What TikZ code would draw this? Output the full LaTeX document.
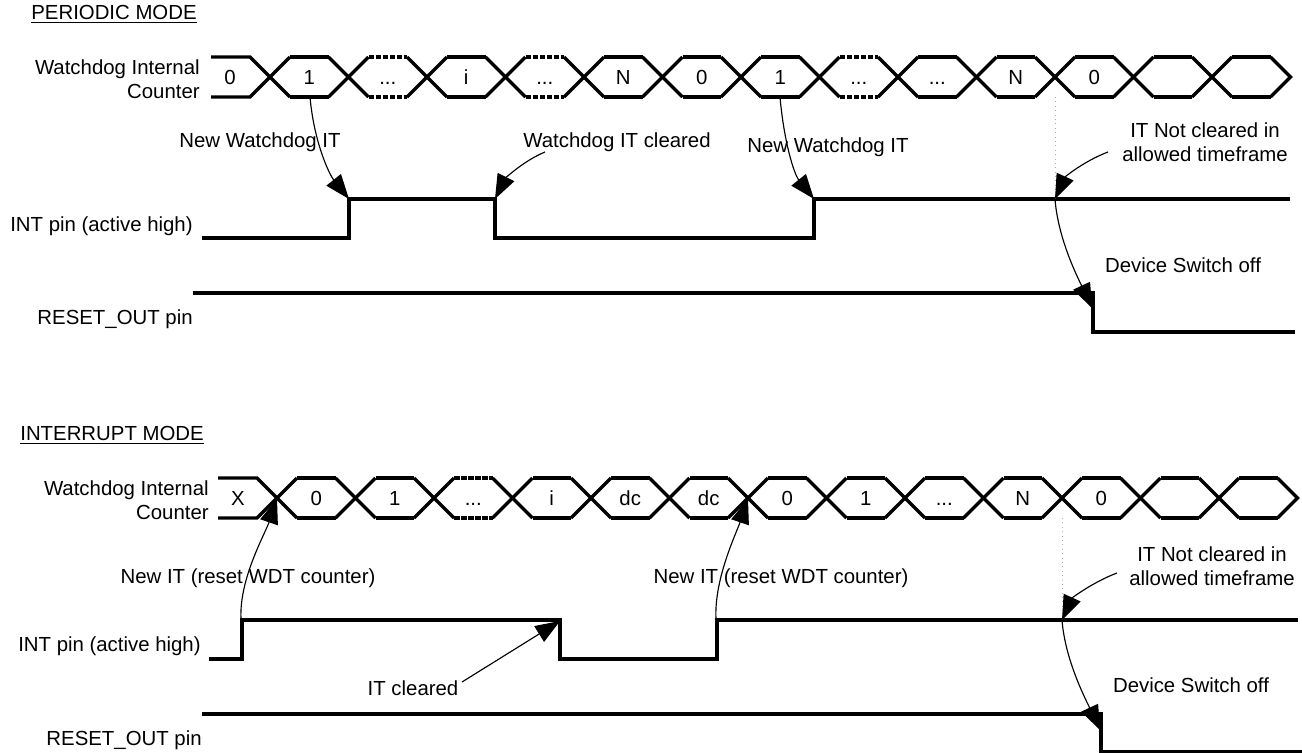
\documentclass[tikz,border=0pt]{standalone}
\usepackage{fontspec}
\setmainfont{Liberation Sans}
\usetikzlibrary{arrows.meta,calc}
\definecolor{signalcolor}{RGB}{0,0,0}
\definecolor{guidecolor}{RGB}{175,175,175}
\newcommand{\skipmark}{...}
\tikzset{
    signal/.style={
        line width=1.9pt,
        line join=miter,
        color=signalcolor
    },
    skipline/.style={signal, dash pattern=on 3.2pt off 0.8pt},
    label/.style={font=\fontsize{11.6}{13.7}\selectfont, inner sep=0pt},
    cell/.style={label, text height=8.3pt, text depth=0pt},
    rowlabel/.style={label, align=right, anchor=east},
    note/.style={label, align=center},
    title/.style={label, anchor=west},
    callout/.style={-{Triangle[length=14pt,width=10.5pt]}, line width=0.65pt},
    guide/.style={dotted, line width=0.5pt, color=guidecolor}
}

\begin{document}
\begin{tikzpicture}[x=0.02cm, y=-0.02cm]
    \useasboundingbox (0,0) rectangle (1302,752);

    % ---------------- Periodic mode ----------------
    \node[title] (ptitle) at (31,14) {\underline{PERIODIC MODE}};

    % Row labels
    \node[rowlabel] (pcnt) at (200,79) {Watchdog Internal\\Counter};
    \node[rowlabel] (pint) at (193,226) {INT pin (active high)};
    \node[rowlabel] (prst) at (193,319) {RESET\_OUT pin};

    % Counter
    \draw[signal] (211,57) -- (250,57) -- (270,77) -- (250,97) -- (211,97);
    \node[cell] (pcs) at (230,77) {0};
    \foreach \lab/\edge [count=\k from 0] in {1/signal, \skipmark/skipline, i/signal, \skipmark/skipline, N/signal, 0/signal, 1/signal, \skipmark/skipline, \skipmark/signal, N/signal, 0/signal, {}/signal, {}/signal} {
        \pgfmathsetmacro\xa{270+78.5*\k}
        \pgfmathsetmacro\xb{\xa+78.5}
        \draw[signal] (\xa+20,57) -- (\xa,77) -- (\xa+20,97);
        \draw[signal] (\xb-20,57) -- (\xb,77) -- (\xb-20,97);
        \draw[\edge] (\xa+20,57) -- (\xb-20,57) (\xa+20,97) -- (\xb-20,97);
        \node[cell] (pc\k) at ({(\xa+\xb)/2},77) {\lab};
    }

    % INT pin and RESET_OUT pin
    \draw[signal] (202,238) -- (349,238) -- (349,199) -- (495,199) -- (495,238)
        -- (814,238) -- (814,199) -- (1290,199);
    \draw[signal] (193,293) -- (1093,293) -- (1093,332) -- (1295,332);

    % Points on the waveforms
    \coordinate (pnew1) at (310,97);
    \coordinate (prise1) at (349,199);
    \coordinate (pclr) at (545,152);
    \coordinate (pfall) at (495,199);
    \coordinate (pnew2) at (780,97);
    \coordinate (prise2) at (814,199);
    \coordinate (pmiss) at (1108,152);
    \coordinate (pedge) at (1055,199);
    \coordinate (ptop) at (1055,97);
    \coordinate (poff) at (1092,308);

    % Notes
    \node[note] (pnote1) at (260,142) {New Watchdog IT};
    \node[note] (pnote2) at (617,142) {Watchdog IT cleared};
    \node[note] (pnote3) at (828,147) {New Watchdog IT};
    \node[note] (pnote4) at (1205,142) {IT Not cleared in\\allowed timeframe};
    \node[note] (pnote5) at (1183,265) {Device Switch off};

    % Callouts
    \draw[guide] (ptop) -- (pedge);
    \draw[callout] (pnew1) .. controls +(4,45) and +(-20,-25) .. (prise1);
    \draw[callout] (pclr) .. controls +(-22,9) and +(10,-20) .. (pfall);
    \draw[callout] (pnew2) .. controls +(4,45) and +(-20,-25) .. (prise2);
    \draw[callout] (pmiss) .. controls +(-24,9) and +(10,-22) .. (pedge);
    \draw[callout] (pedge) .. controls +(3,40) and +(-14,-30) .. (poff);

    % ---------------- Interrupt mode ----------------
    \node[title] (ititle) at (20,435) {\underline{INTERRUPT MODE}};

    % Row labels
    \node[rowlabel] (icnt) at (209,500) {Watchdog Internal\\Counter};
    \node[rowlabel] (iint) at (201,646) {INT pin (active high)};
    \node[rowlabel] (irst) at (202,740) {RESET\_OUT pin};

    % Counter
    \draw[signal] (218,478) -- (257,478) -- (277,498) -- (257,518) -- (218,518);
    \node[cell] (ics) at (238,498) {X};
    \foreach \lab/\edge [count=\k from 0] in {0/signal, 1/signal, \skipmark/skipline, i/signal, dc/signal, dc/signal, 0/signal, 1/signal, \skipmark/signal, N/signal, 0/signal, {}/signal, {}/signal} {
        \pgfmathsetmacro\xa{277+78.5*\k}
        \pgfmathsetmacro\xb{\xa+78.5}
        \draw[signal] (\xa+20,478) -- (\xa,498) -- (\xa+20,518);
        \draw[signal] (\xb-20,478) -- (\xb,498) -- (\xb-20,518);
        \draw[\edge] (\xa+20,478) -- (\xb-20,478) (\xa+20,518) -- (\xb-20,518);
        \node[cell] (ic\k) at ({(\xa+\xb)/2},498) {\lab};
    }

    % INT pin and RESET_OUT pin
    \draw[signal] (209,659) -- (242,659) -- (242,620) -- (560,620) -- (560,659)
        -- (717,659) -- (717,620) -- (1298,620);
    \draw[signal] (202,714) -- (1101,714) -- (1101,752) -- (1310,752);

    % Points on the waveforms
    \coordinate (irise1) at (241,619);
    \coordinate (ireset1) at (277,499);
    \coordinate (irise2) at (716,619);
    \coordinate (ireset2) at (748,499);
    \coordinate (iclr) at (462,682);
    \coordinate (ifall) at (560,621);
    \coordinate (imiss) at (1117,573);
    \coordinate (iedge) at (1062,620);
    \coordinate (itop) at (1062,518);
    \coordinate (ioff) at (1100,730);

    % Notes
    \node[note] (inote1) at (248,578) {New IT (reset WDT counter)};
    \node[note] (inote2) at (781,578) {New IT (reset WDT counter)};
    \node[note] (inote3) at (413,688) {IT cleared};
    \node[note] (inote4) at (1212,566) {IT Not cleared in\\allowed timeframe};
    \node[note] (inote5) at (1191,685) {Device Switch off};

    % Callouts
    \draw[guide] (itop) -- (iedge);
    \draw[callout] (irise1) .. controls +(-2,-40) and +(-12,35) .. (ireset1);
    \draw[callout] (irise2) .. controls +(-2,-40) and +(-12,35) .. (ireset2);
    \draw[callout] (iclr) -- (ifall);
    \draw[callout] (imiss) .. controls +(-24,9) and +(10,-22) .. (iedge);
    \draw[callout] (iedge) .. controls +(3,40) and +(-14,-30) .. (ioff);
\end{tikzpicture}
\end{document}
